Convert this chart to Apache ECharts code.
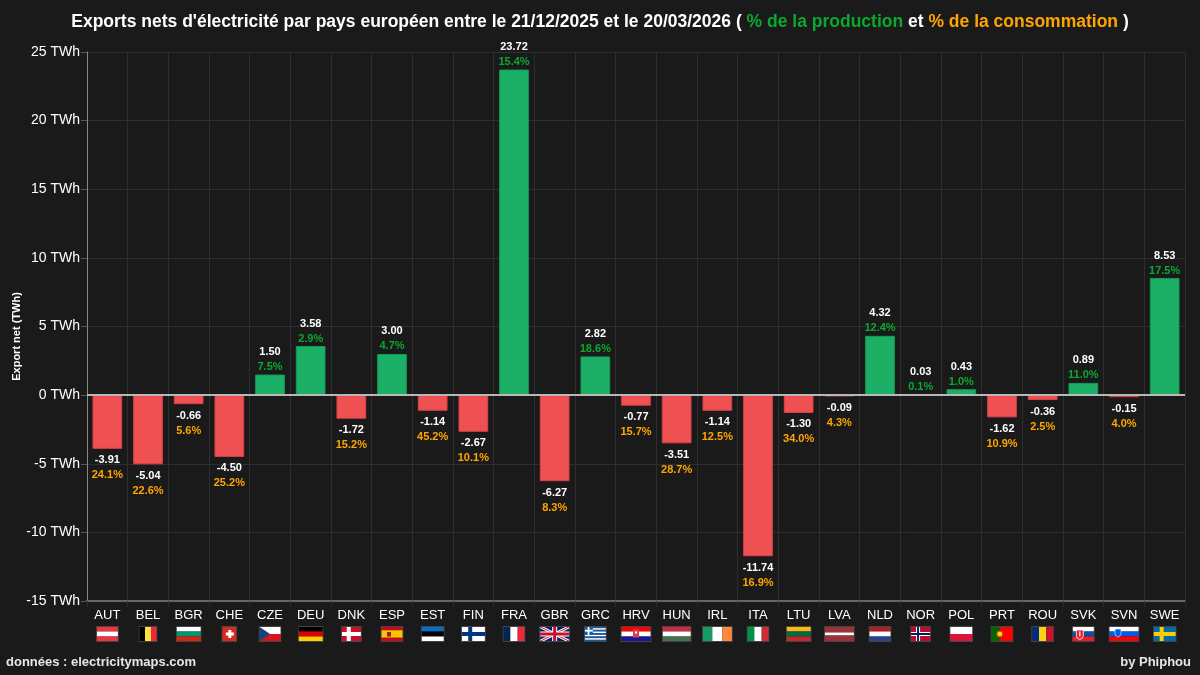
<!DOCTYPE html>
<html>
<head>
<meta charset="utf-8">
<title>Exports nets d'électricité</title>
<script src="https://cdn.jsdelivr.net/npm/echarts@6/dist/echarts.min.js"></script>
<style>
html,body{margin:0;padding:0;background:#1a1a1a;}
#main{width:1200px;height:675px;}
</style>
</head>
<body>
<div id="main"></div>
<script>
var countries=['AUT','BEL','BGR','CHE','CZE','DEU','DNK','ESP','EST','FIN','FRA','GBR','GRC','HRV','HUN','IRL','ITA','LTU','LVA','NLD','NOR','POL','PRT','ROU','SVK','SVN','SWE'];
var exportsNet=[-3.91,-5.04,-0.66,-4.50,1.50,3.58,-1.72,3.00,-1.14,-2.67,23.72,-6.27,2.82,-0.77,-3.51,-1.14,-11.74,-1.30,-0.09,4.32,0.03,0.43,-1.62,-0.36,0.89,-0.15,8.53];
var percents=[24.1,22.6,5.6,25.2,7.5,2.9,15.2,4.7,45.2,10.1,15.4,8.3,18.6,15.7,28.7,12.5,16.9,34.0,4.3,12.4,0.1,1.0,10.9,2.5,11.0,4.0,17.5];
var yTicks=[-15,-10,-5,0,5,10,15,20,25];

// drapeaux : largeur en px pour 15px de haut
var H=15;
function hs(c,r){ // bandes horizontales
    return function(w){
        var s='',y=0,t=0,i;
        r=r||c.map(function(){return 1});
        for(i=0;i<r.length;i++)t+=r[i];
        for(i=0;i<c.length;i++){
            s+='<rect x="0" y="'+y+'" width="'+w+'" height="'+(H*r[i]/t)+'" fill="'+c[i]+'"/>';
            y+=H*r[i]/t;
        }
        return s;
    }
}
function vs(c,r){ // bandes verticales
    return function(w){
        var s='',x=0,t=0,i;
        r=r||c.map(function(){return 1});
        for(i=0;i<r.length;i++)t+=r[i];
        for(i=0;i<c.length;i++){
            s+='<rect x="'+x+'" y="0" width="'+(w*r[i]/t)+'" height="'+H+'" fill="'+c[i]+'"/>';
            x+=w*r[i]/t;
        }
        return s;
    }
}
function nordic(bg,c1,c2){
    return function(w){
        var cx=w*0.37;
        var s='<rect width="'+w+'" height="'+H+'" fill="'+bg+'"/>';
        s+='<rect x="'+(cx-2)+'" y="0" width="4" height="'+H+'" fill="'+c1+'"/><rect x="0" y="5.5" width="'+w+'" height="4" fill="'+c1+'"/>';
        if(c2)s+='<rect x="'+(cx-1)+'" y="0" width="2" height="'+H+'" fill="'+c2+'"/><rect x="0" y="6.5" width="'+w+'" height="2" fill="'+c2+'"/>';
        return s;
    }
}
function withExtra(base,extra){
    return function(w){return base(w)+extra(w);}
}
var flags={
    AUT:[23,hs(['#ef3340','#ffffff','#ef3340'])],
    BEL:[19,vs(['#000000','#fae042','#ed2939'])],
    BGR:[26,hs(['#ffffff','#00966e','#d62612'])],
    CHE:[16,withExtra(hs(['#d52b1e']),function(){return '<rect x="6.5" y="3.5" width="3" height="8" fill="#fff"/><rect x="4" y="6" width="8" height="3" fill="#fff"/>'})],
    CZE:[23,withExtra(hs(['#ffffff','#d7141a']),function(w){return '<path d="M0 0L'+(w/2)+' 7.5L0 15Z" fill="#11457e"/>'})],
    DEU:[26,hs(['#000000','#dd0000','#ffce00'])],
    DNK:[21,nordic('#c8102e','#ffffff')],
    ESP:[23,withExtra(hs(['#c60b1e','#ffc400','#c60b1e'],[1,2,1]),function(){return '<rect x="6" y="5.5" width="4" height="4.5" fill="#ad1519"/>'})],
    EST:[24,hs(['#0072ce','#000000','#ffffff'])],
    FIN:[25,nordic('#ffffff','#003580')],
    FRA:[23,vs(['#002654','#ffffff','#ed2939'])],
    GBR:[31,function(w){
        return '<rect width="'+w+'" height="'+H+'" fill="#012169"/>'
        +'<path d="M0 0L'+w+' '+H+'M'+w+' 0L0 '+H+'" stroke="#fff" stroke-width="3"/>'
        +'<path d="M0 0L'+w+' '+H+'M'+w+' 0L0 '+H+'" stroke="#c8102e" stroke-width="1"/>'
        +'<rect x="'+(w/2-2.5)+'" y="0" width="5" height="'+H+'" fill="#fff"/><rect x="0" y="5" width="'+w+'" height="5" fill="#fff"/>'
        +'<rect x="'+(w/2-1.5)+'" y="0" width="3" height="'+H+'" fill="#c8102e"/><rect x="0" y="6" width="'+w+'" height="3" fill="#c8102e"/>';
    }],
    GRC:[23,withExtra(hs(['#0d5eaf','#ffffff','#0d5eaf','#ffffff','#0d5eaf','#ffffff','#0d5eaf','#ffffff','#0d5eaf']),function(){
        return '<rect width="8.5" height="8.4" fill="#0d5eaf"/><rect x="3.3" width="1.8" height="8.4" fill="#fff"/><rect y="3.3" width="8.5" height="1.8" fill="#fff"/>';
    })],
    HRV:[31,withExtra(hs(['#ff0000','#ffffff','#171796']),function(w){return '<rect x="'+(w/2-3)+'" y="3" width="6" height="8" fill="#d6404a"/><rect x="'+(w/2-1)+'" y="5" width="2" height="2" fill="#fff"/>'})],
    HUN:[30,hs(['#cd2a3e','#ffffff','#436f4d'])],
    IRL:[31,vs(['#169b62','#ffffff','#ff883e'])],
    ITA:[23,vs(['#009246','#ffffff','#ce2b37'])],
    LTU:[26,hs(['#fdb913','#006a44','#c1272d'])],
    LVA:[31,hs(['#9e3039','#ffffff','#9e3039'],[2,1,2])],
    NLD:[23,hs(['#ae1c28','#ffffff','#21468b'])],
    NOR:[21,nordic('#ba0c2f','#ffffff','#00205b')],
    POL:[24,hs(['#ffffff','#dc143c'])],
    PRT:[23,withExtra(vs(['#006600','#ff0000'],[2,3]),function(w){return '<circle cx="'+(w*0.4)+'" cy="7.5" r="3" fill="#ffe000" stroke="#c33" stroke-width="1.2"/>'})],
    ROU:[23,vs(['#002b7f','#fcd116','#ce1126'])],
    SVK:[23,withExtra(hs(['#ffffff','#0b4ea2','#ee1c25']),function(){return '<path d="M4 3.5H11V9Q11 12 7.5 13Q4 12 4 9Z" fill="#ee1c25" stroke="#fff" stroke-width=".8"/><rect x="6.9" y="5" width="1.2" height="5" fill="#fff"/>'})],
    SVN:[31,withExtra(hs(['#ffffff','#005ce5','#ff0000']),function(){return '<path d="M6 2.5H12V7Q12 9.5 9 10.5Q6 9.5 6 7Z" fill="#005ce5" stroke="#fff" stroke-width=".6"/>'})],
    SWE:[24,nordic('#006aa7','#fecc00')]
};
function flagUri(code){
    var w=flags[code][0];
    var svg='<svg xmlns="http://www.w3.org/2000/svg" width="'+w+'" height="'+(H+1)+'" viewBox="-0.5 -0.5 '+w+' '+(H+1)+'">'
        +'<svg width="'+(w-1)+'" height="'+H+'" viewBox="0 0 '+(w-1)+' '+H+'">'+flags[code][1](w-1)+'</svg>'
        +'<rect width="'+(w-1)+'" height="'+H+'" fill="none" stroke="#444" stroke-width="1"/></svg>';
    return 'data:image/svg+xml;charset=utf-8,'+encodeURIComponent(svg);
}
var xRich={n:{color:'#ffffff',fontSize:13,lineHeight:19,fontFamily:'Liberation Sans'}};
countries.forEach(function(c){
    xRich['f'+c]={width:flags[c][0],height:H+1,lineHeight:18,backgroundColor:{image:flagUri(c)}};
});

var barData=exportsNet.map(function(v,i){
    return {
        value:v,
        itemStyle:{color:v>=0?'#1bb065':'#ef5052',borderColor:v>=0?'#179a58':'#d9434b',borderWidth:1},
        label:{
            position:v>=0?'top':'bottom',
            distance:v>=0?0:4,
            formatter:'{v|'+v.toFixed(2)+'}\n{'+(v>=0?'g':'o')+'|'+percents[i].toFixed(1)+'%}'
        }
    };
});

var app=echarts.init(document.getElementById('main'));
var option={
    backgroundColor:'#1a1a1a',
    animation:false,
    textStyle:{fontFamily:'Liberation Sans'},
    title:[{
        left:595,top:8,textAlign:'center',
        text:"{t|Exports nets d'électricité par pays européen entre le 21/12/2025 et le 20/03/2026 ( }{g|% de la production}{t| et }{o|% de la consommation}{t| )}",
        textStyle:{rich:{
            t:{color:'#ffffff',fontSize:17.5,fontWeight:'bold',fontFamily:'Liberation Sans'},
            g:{color:'#0ba82e',fontSize:17.5,fontWeight:'bold',fontFamily:'Liberation Sans'},
            o:{color:'#ffa500',fontSize:17.5,fontWeight:'bold',fontFamily:'Liberation Sans'}
        }}
    },{
        left:1,top:651,text:'données : electricitymaps.com',
        textStyle:{color:'#e6e6e6',fontSize:13,fontWeight:'bold',fontFamily:'Liberation Sans'}
    },{
        right:4,top:651,text:'by Phiphou',
        textStyle:{color:'#e6e6e6',fontSize:13,fontWeight:'bold',fontFamily:'Liberation Sans'}
    }],
    grid:{left:87,right:15,top:52,bottom:74,outerBoundsMode:'none'},
    xAxis:{
        type:'category',
        data:countries,
        axisLine:{onZero:false,lineStyle:{color:'#666',width:2}},
        axisTick:{show:true,length:6,lineStyle:{color:'#2e2e2e'}},
        splitLine:{show:true,lineStyle:{color:'#2e2e2e'}},
        axisLabel:{
            interval:0,margin:5,
            formatter:function(c){return '{n|'+c+'}\n{f'+c+'|}';},
            rich:xRich
        }
    },
    yAxis:{
        type:'value',min:-15,max:25,interval:5,
        name:'Export net (TWh)',
        nameLocation:'middle',nameGap:65,nameRotate:90,nameMoveOverlap:false,
        nameTextStyle:{color:'#ffffff',fontSize:11,fontWeight:'bold',padding:[0,0,0,-20],fontFamily:'Liberation Sans'},
        axisLine:{show:true,lineStyle:{color:'#888'}},
        axisTick:{show:true,length:6,lineStyle:{color:'#555'}},
        splitLine:{show:true,lineStyle:{color:'#2e2e2e'}},
        axisLabel:{color:'#ffffff',fontSize:14,margin:7,fontFamily:'Liberation Sans',
            formatter:function(v){return yTicks.indexOf(v)>=0?v+' TWh':'';}}
    },
    series:[{
        type:'bar',
        data:barData,
        barWidth:'73%',
        label:{
            show:true,
            rich:{
                v:{color:'#ffffff',fontSize:11,fontWeight:'bold',lineHeight:15,fontFamily:'Liberation Sans'},
                g:{color:'#0ba82e',fontSize:11,fontWeight:'bold',lineHeight:15,fontFamily:'Liberation Sans'},
                o:{color:'#ffa500',fontSize:11,fontWeight:'bold',lineHeight:15,fontFamily:'Liberation Sans'}
            }
        },
        markLine:{
            silent:true,symbol:'none',label:{show:false},
            lineStyle:{color:'#b8b8b8',width:2,type:'solid'},
            data:[{yAxis:0}]
        }
    }]
};
app.setOption(option);
</script>
</body>
</html>
